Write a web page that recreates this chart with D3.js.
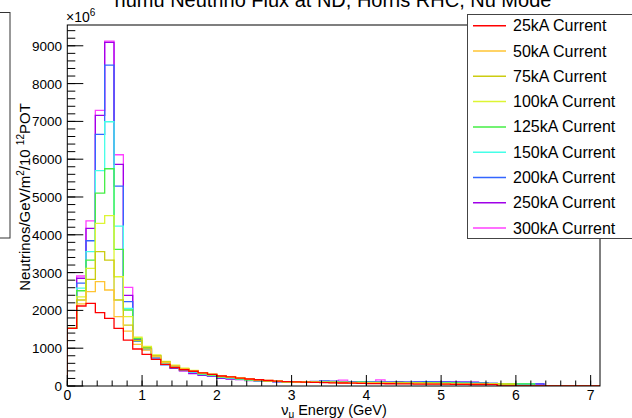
<!DOCTYPE html>
<html>
<head>
<meta charset="utf-8">
<script src="https://cdn.jsdelivr.net/npm/d3@7"></script>
<style>
  html, body { margin: 0; padding: 0; background: #fff; }
  svg { display: block; font-family: "Liberation Sans", Arial, Helvetica, sans-serif; }
</style>
</head>
<body>
<svg id="chart" width="632" height="418"></svg>
<script>
// Histogram binning: 57 bins of 0.125 GeV from 0 to 7.125 GeV
const binWidth = 0.125;
const nBins = 57;
const binEdges = d3.range(nBins + 1).map(i => i * binWidth);

// Horn currents (legend order) and line colours
const currents = ["25kA", "50kA", "75kA", "100kA", "125kA", "150kA", "200kA", "250kA", "300kA"];
const colors = ["#ff0000", "#ffc433", "#cccc11", "#ddf533", "#44ee44", "#44ffe8", "#3366ff", "#a000e8", "#ff40ff"];

// Flux per bin (units of 1e6 neutrinos / GeV / m^2 / 1e12 POT)
const flux25 = [1525, 2116, 2187, 1940, 1790, 1525, 1216, 979, 838, 705, 573, 490,
  430, 390, 345, 305, 265, 240, 210, 185, 165, 145, 128, 115,
  110, 100, 95, 90, 85, 80, 75, 70, 65, 62, 60, 58,
  55, 52, 50, 50, 48, 45, 42, 40, 40, 38, 0, 0,
  0, 0, 0, 0, 0, 0, 0, 0, 0];
const flux50 = [1525, 2170, 2495, 2760, 2540, 1833, 1450, 1100, 950, 780, 620, 530,
  455, 395, 350, 310, 265, 245, 215, 185, 160, 145, 130, 118,
  110, 105, 100, 96, 92, 90, 86, 84, 80, 78, 75, 72,
  70, 68, 66, 64, 62, 60, 58, 56, 52, 50, 0, 0,
  0, 0, 0, 0, 0, 0, 0, 0, 0];
const flux75 = [1525, 2275, 2822, 3553, 3332, 2275, 1613, 1200, 1000, 800, 640, 540,
  460, 400, 355, 315, 265, 250, 215, 180, 155, 140, 130, 115,
  108, 104, 100, 98, 95, 92, 90, 86, 84, 80, 78, 76,
  74, 72, 70, 68, 65, 62, 60, 58, 55, 52, 50, 48,
  0, 0, 0, 0, 0, 0, 0, 0, 0];
const flux100 = [1525, 2360, 3112, 4302, 4505, 2890, 1833, 1290, 1050, 820, 650, 550,
  470, 410, 350, 300, 250, 235, 200, 170, 150, 135, 125, 110,
  105, 110, 100, 95, 98, 92, 90, 88, 85, 82, 80, 78,
  75, 74, 72, 70, 66, 64, 62, 60, 58, 56, 55, 52,
  0, 0, 0, 0, 0, 0, 0, 0, 0];
const flux125 = [1525, 2520, 3332, 5104, 5747, 3614, 2010, 1250, 1020, 800, 640, 540,
  455, 390, 320, 290, 240, 220, 190, 160, 145, 130, 120, 105,
  110, 108, 105, 102, 100, 98, 96, 100, 95, 92, 90, 95,
  88, 86, 90, 85, 82, 80, 76, 72, 68, 65, 62, 60,
  58, 55, 0, 0, 0, 0, 0, 0, 0];
const flux150 = [1525, 2590, 3553, 5695, 6990, 4232, 2055, 1200, 980, 770, 600, 510,
  430, 370, 310, 280, 230, 210, 185, 155, 140, 125, 115, 105,
  112, 110, 108, 104, 100, 102, 98, 100, 96, 94, 92, 90,
  95, 88, 86, 90, 84, 80, 76, 72, 70, 66, 62, 60,
  58, 56, 0, 0, 0, 0, 0, 0, 0];
const flux200 = [1525, 2720, 3843, 6657, 8490, 5290, 2230, 1180, 960, 740, 560, 480,
  420, 360, 300, 270, 220, 200, 180, 150, 135, 125, 115, 110,
  118, 115, 125, 132, 128, 110, 105, 110, 108, 105, 100, 104,
  100, 110, 112, 110, 108, 104, 100, 95, 80, 72, 65, 62,
  60, 58, 56, 0, 0, 0, 0, 0, 0];
const flux250 = [1525, 2850, 4170, 7160, 9090, 5863, 2400, 1230, 980, 760, 590, 470,
  400, 330, 280, 260, 200, 180, 170, 145, 135, 120, 110, 110,
  112, 110, 115, 120, 118, 112, 108, 114, 110, 106, 108, 112,
  104, 100, 106, 104, 100, 98, 95, 92, 85, 70, 65, 62,
  60, 58, 55, 0, 0, 0, 0, 0, 0];
const flux300 = [1525, 2910, 4370, 7292, 9125, 6117, 2610, 1260, 1000, 780, 610, 500,
  410, 340, 290, 265, 215, 190, 175, 150, 140, 125, 115, 110,
  115, 112, 110, 118, 120, 158, 112, 110, 108, 160, 106, 104,
  110, 108, 110, 114, 116, 112, 110, 105, 90, 62, 58, 56,
  55, 52, 50, 0, 0, 0, 0, 0, 0];

const fluxes = [flux25, flux50, flux75, flux100, flux125, flux150, flux200, flux250, flux300];

// Axis settings
const xMax = 7.125;
const yMax = 9550;
const xTicksMajor = [0, 1, 2, 3, 4, 5, 6, 7];
const yTicksMajor = [0, 1000, 2000, 3000, 4000, 5000, 6000, 7000, 8000, 9000];

const svg = d3.select("#chart");
const frame = { left: 67.3, right: 600, top: 25, bottom: 386 };

const x = d3.scaleLinear().domain([0, xMax]).range([frame.left, frame.right]);
const y = d3.scaleLinear().domain([0, yMax]).range([frame.bottom, frame.top]);

// Title (sits partly above the canvas)
svg.append("text")
  .attr("x", 333).attr("y", 7)
  .attr("text-anchor", "middle")
  .attr("font-size", 20)
  .attr("fill", "#000")
  .text("numu Neutrino Flux at ND, Horns RHC, Nu Mode");

// Clip region for the histograms
svg.append("defs").append("clipPath").attr("id", "plotClip")
  .append("rect")
  .attr("x", frame.left).attr("y", frame.top)
  .attr("width", frame.right - frame.left).attr("height", frame.bottom - frame.top);

// Step outline of a histogram
function histPoints(values) {
  const pts = [[binEdges[0], 0]];
  values.forEach((v, i) => {
    pts.push([binEdges[i], v]);
    pts.push([binEdges[i + 1], v]);
  });
  pts.push([binEdges[values.length], 0]);
  return pts;
}
const line = d3.line().x(d => x(d[0])).y(d => y(d[1]));

const gHist = svg.append("g").attr("clip-path", "url(#plotClip)");
// Highest current drawn first, lowest current on top
for (let s = fluxes.length - 1; s >= 0; s--) {
  gHist.append("path")
    .attr("d", line(histPoints(fluxes[s])))
    .attr("fill", "none")
    .attr("stroke", colors[s])
    .attr("stroke-width", 1.3)
    .attr("stroke-linejoin", "miter");
}

// Frame
svg.append("rect")
  .attr("x", frame.left).attr("y", frame.top)
  .attr("width", frame.right - frame.left).attr("height", frame.bottom - frame.top)
  .attr("fill", "none").attr("stroke", "#000").attr("stroke-width", 1);

// X axis ticks (drawn inward)
const xMinor = d3.range(0, xMax + 1e-9, 0.2);
const gx = svg.append("g");
gx.selectAll("line.minor").data(xMinor).join("line")
  .attr("x1", d => x(d)).attr("x2", d => x(d))
  .attr("y1", frame.bottom).attr("y2", frame.bottom - 5.5)
  .attr("stroke", "#000");
gx.selectAll("line.major").data(xTicksMajor).join("line")
  .attr("class", "major")
  .attr("x1", d => x(d)).attr("x2", d => x(d))
  .attr("y1", frame.bottom).attr("y2", frame.bottom - 11)
  .attr("stroke", "#000");
gx.selectAll("text").data(xTicksMajor).join("text")
  .attr("x", d => x(d)).attr("y", 399.5)
  .attr("text-anchor", "middle")
  .attr("font-size", 14)
  .text(d => d);

// Y axis ticks (drawn inward)
const yMinor = d3.range(0, yMax, 200);
const gy = svg.append("g");
gy.selectAll("line.minor").data(yMinor).join("line")
  .attr("x1", frame.left).attr("x2", frame.left + 8)
  .attr("y1", d => y(d)).attr("y2", d => y(d))
  .attr("stroke", "#000");
gy.selectAll("line.major").data(yTicksMajor).join("line")
  .attr("class", "major")
  .attr("x1", frame.left).attr("x2", frame.left + 16)
  .attr("y1", d => y(d)).attr("y2", d => y(d))
  .attr("stroke", "#000");
gy.selectAll("text").data(yTicksMajor).join("text")
  .attr("x", 62).attr("y", d => y(d) + 5)
  .attr("text-anchor", "end")
  .attr("font-size", 13.5)
  .text(d => d);

// Exponent label
const expo = svg.append("text").attr("x", 66).attr("y", 22).attr("font-size", 14);
expo.append("tspan").text("\u00d710");
expo.append("tspan").attr("font-size", 10).attr("dy", -6).text("6");

// X axis title
const xt = svg.append("text")
  .attr("x", 334).attr("y", 414.5)
  .attr("text-anchor", "middle")
  .attr("font-size", 14.5);
xt.append("tspan").text("\u03bd");
xt.append("tspan").attr("font-size", 10).attr("dy", 3).text("\u03bc");
xt.append("tspan").attr("dy", -3).text(" Energy (GeV)");

// Y axis title
const yt = svg.append("text")
  .attr("transform", "translate(30,197) rotate(-90)")
  .attr("text-anchor", "middle")
  .attr("font-size", 15);
yt.append("tspan").text("Neutrinos/GeV/m");
yt.append("tspan").attr("font-size", 10).attr("dy", -6).text("2");
yt.append("tspan").attr("dy", 6).text("/10 ");
yt.append("tspan").attr("font-size", 10).attr("dy", -6).text("12");
yt.append("tspan").attr("dy", 6).text("POT");

// Partially visible box at the left edge
svg.append("rect")
  .attr("x", -2).attr("y", 12.5).attr("width", 12).attr("height", 225.5)
  .attr("fill", "#fff").attr("stroke", "#333").attr("stroke-width", 1);

// Legend
const legend = svg.append("g");
legend.append("rect")
  .attr("x", 467.5).attr("y", 14.5).attr("width", 200).attr("height", 224)
  .attr("fill", "#fff").attr("stroke", "#444").attr("stroke-width", 1);
const rows = legend.selectAll("g.row").data(currents).join("g")
  .attr("transform", (d, i) => `translate(0, ${25.7 + i * 25.3})`);
rows.append("line")
  .attr("x1", 473).attr("x2", 506).attr("y1", 0).attr("y2", 0)
  .attr("stroke", (d, i) => colors[i]).attr("stroke-width", 1.5);
rows.append("text")
  .attr("x", 513).attr("y", 5.5)
  .attr("font-size", 16)
  .text(d => d + " Current");
</script>
</body>
</html>
